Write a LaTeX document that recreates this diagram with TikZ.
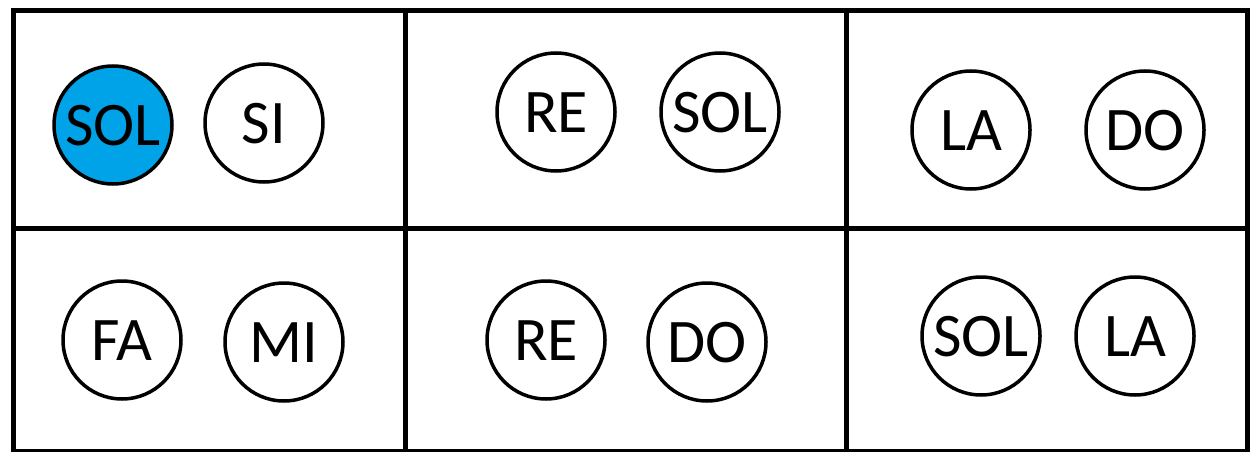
\documentclass[tikz,border=0pt]{standalone}
\usepackage{fontspec}
\setmainfont{Carlito}
\definecolor{solblue}{HTML}{00A2E8}
\begin{document}
\begin{tikzpicture}[x=1pt, y=-1pt, main/.style = {draw, circle, line width=3.5pt, minimum size=118pt, inner sep=0pt, font=\fontsize{62}{62}\selectfont, text height=40pt, text depth=0pt}]
\useasboundingbox (0,0) rectangle (1250,452);
\draw[line width=5pt] (13,11) rectangle (1247,451);
\draw[line width=5pt] (405,11) -- (405,451);
\draw[line width=5pt] (846,11) -- (846,451);
\draw[line width=5pt] (13,228) -- (1247,228);
\node[main, fill=solblue] (sol1) at (113,125) {SOL};
\node[main] (si) at (264,123) {SI};
\node[main] (fa) at (122,340) {FA};
\node[main] (mi) at (284,342) {MI};
\node[main] (re1) at (556,112) {RE};
\node[main] (sol2) at (720,112) {SOL};
\node[main] (re2) at (546,340) {RE};
\node[main] (do1) at (707,342) {DO};
\node[main] (la1) at (971,130) {LA};
\node[main] (do2) at (1145,130) {DO};
\node[main] (sol3) at (981,336) {SOL};
\node[main] (la2) at (1135,336) {LA};
\end{tikzpicture}
\end{document}
